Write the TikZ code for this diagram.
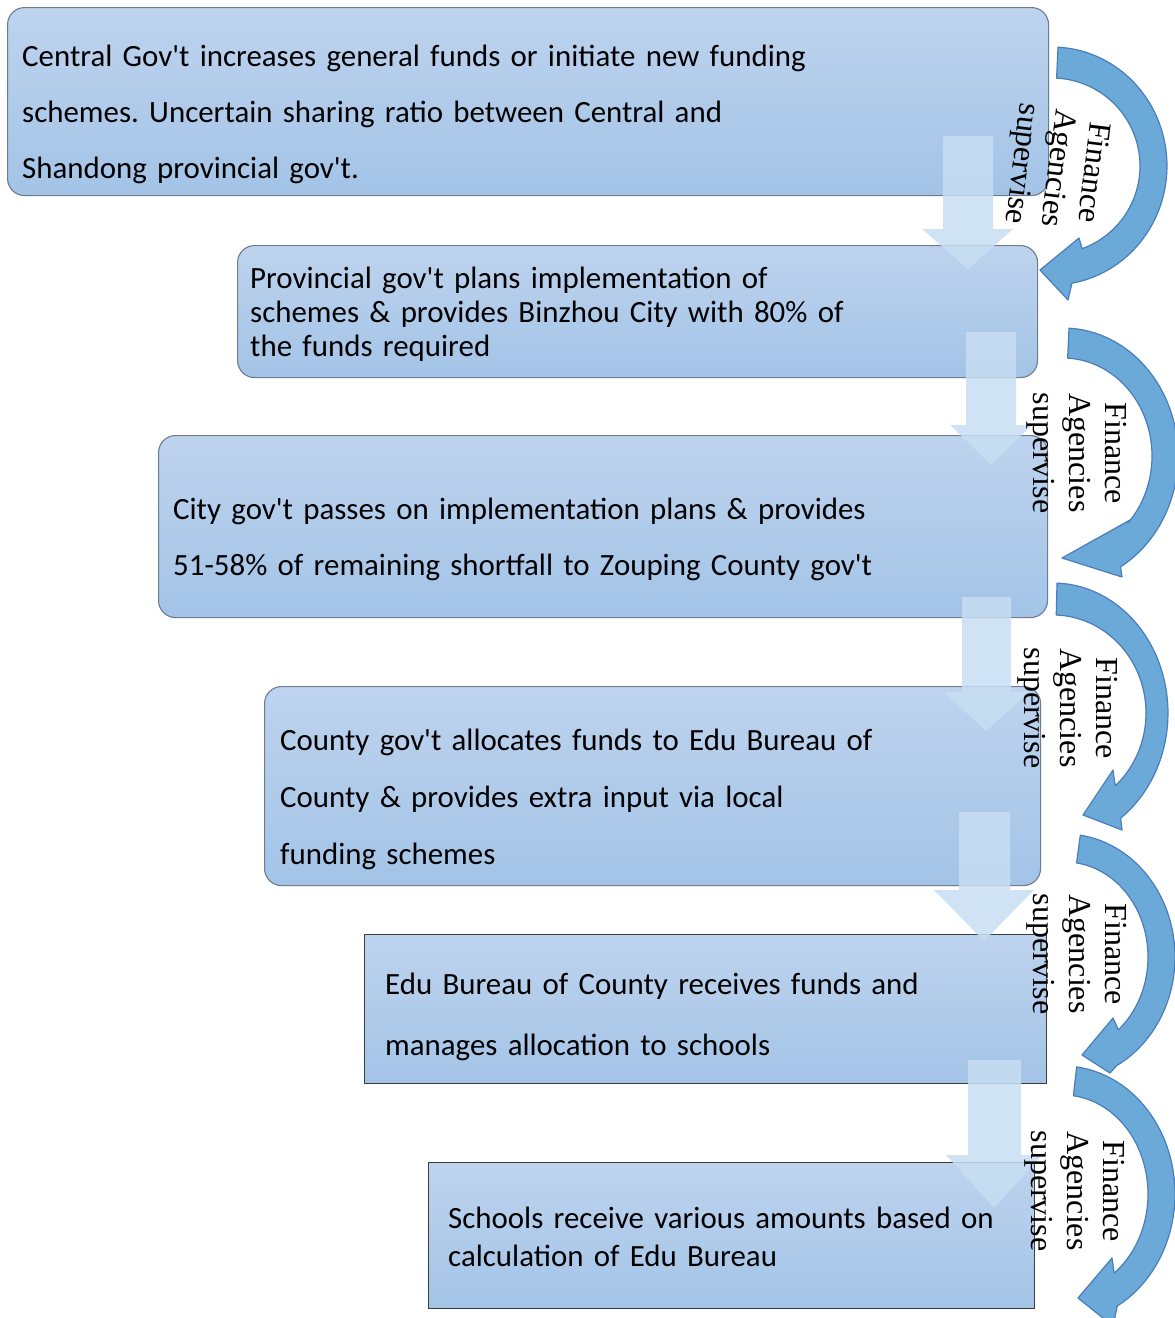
\documentclass[tikz,border=0pt]{standalone}
\usepackage{fontspec}
\newfontfamily\boxfont{Carlito}
\newfontfamily\labelserif{Liberation Serif}
\definecolor{boxtop}{RGB}{190,211,238}
\definecolor{boxbot}{RGB}{163,196,231}
\definecolor{boxline}{RGB}{110,124,142}
\definecolor{boxdark}{RGB}{60,60,60}
\definecolor{flowfill}{RGB}{200,222,242}
\definecolor{loopfill}{RGB}{106,169,216}
\definecolor{loopline}{RGB}{74,126,187}
\frenchspacing
\begin{document}
\begin{tikzpicture}[x=1pt,y=-1pt,
  stage/.style={draw=boxline, line width=1.1pt, top color=boxtop, bottom color=boxbot,
    rounded corners=17pt, anchor=north west, inner sep=0pt},
  stagesq/.style={draw=boxdark, line width=1.4pt, top color=boxtop, bottom color=boxbot,
    anchor=north west, inner sep=0pt},
  stagetext/.style={anchor=base west, inner sep=0pt, align=left, text width=900pt,
    font=\boxfont\fontsize{30.9}{#1}\selectfont},
  flow/.style={fill=flowfill, fill opacity=0.85, draw=none},
  loop/.style={fill=loopfill, draw=loopline, line width=1.2pt, line join=round},
  looptext/.style={font=\labelserif\fontsize{32}{36}\selectfont, align=center,
    inner sep=0pt}
]
\path[use as bounding box, clip] (0,0) rectangle (1175,1318);

% the six stages of the funding chain
\node[stage, minimum width=1041pt, minimum height=188pt] (b1) at (7,7) {};
\node[stage, minimum width=800pt, minimum height=132pt] (b2) at (237,245) {};
\node[stage, minimum width=889pt, minimum height=182pt] (b3) at (158,435) {};
\node[stage, minimum width=776pt, minimum height=199pt] (b4) at (264,686) {};
\node[stagesq, minimum width=682pt, minimum height=149pt] (b5) at (364,934) {};
\node[stagesq, minimum width=606pt, minimum height=146pt] (b6) at (428,1162) {};

% downward flow arrows between the stages
\path[flow] (943,136) -- (993,136) -- (993,229) -- (1013,229) -- (968,269)
  -- (922,229) -- (943,229) -- cycle;
\path[flow] (966,332) -- (1016,332) -- (1016,425) -- (1032,425) -- (991,465)
  -- (950,425) -- (966,425) -- cycle;
\path[flow] (962,597) -- (1011,597) -- (1011,692) -- (1029,692) -- (986,731)
  -- (944,692) -- (962,692) -- cycle;
\path[flow] (959,812) -- (1010,812) -- (1010,890) -- (1034,890) -- (984,941)
  -- (934,890) -- (959,890) -- cycle;
\path[flow] (968,1060) -- (1021,1060) -- (1021,1155) -- (1042,1155) -- (994,1208)
  -- (946,1155) -- (968,1155) -- cycle;

% circular supervision arrows on the right
\path[loop] plot[domain=87:-80, samples=60] ({1052+115*cos(\x)},{166-119*sin(\x)})
  -- (1068,300) -- (1040,270) -- (1079,238)
  -- plot[domain=-70:87, samples=60] ({1052+88*cos(\x)},{166-88*sin(\x)}) -- cycle;
\path[loop] plot[domain=87:-60, samples=60] ({1063+115*cos(\x)},{456-128*sin(\x)})
  -- (1122,577) -- (1062,558) -- (1130,520)
  -- plot[domain=-43:87, samples=60] ({1063+89*cos(\x)},{456-98*sin(\x)}) -- cycle;
\path[loop] plot[domain=88:-54, samples=60] ({1053+115*cos(\x)},{713-130*sin(\x)})
  -- (1122,830) -- (1083,815) -- (1113,770)
  -- plot[domain=-48:88, samples=60] ({1053+93*cos(\x)},{713-98*sin(\x)}) -- cycle;
\path[loop] plot[domain=82:-62, samples=60] ({1065+110*cos(\x)},{957-123*sin(\x)})
  -- (1110,1073) -- (1082,1055) -- (1113,1018)
  -- plot[domain=-50:82, samples=60] ({1065+83*cos(\x)},{957-95*sin(\x)}) -- cycle;
\path[loop] plot[domain=83:-61, samples=60] ({1063+112*cos(\x)},{1194-128*sin(\x)})
  -- (1113,1326) -- (1078,1298) -- (1112,1258)
  -- plot[domain=-53:83, samples=60] ({1063+85*cos(\x)},{1194-99*sin(\x)}) -- cycle;

% stage texts
\node[stagetext=56] (t1) at (22,66) {Central Gov't increases general funds or initiate new funding\\
  schemes. Uncertain sharing ratio between Central and\\Shandong provincial gov't.};
\node[stagetext=34] (t2) at (250,288) {Provincial gov't plans implementation of\\
  schemes \& provides Binzhou City with 80\% of\\the funds required};
\node[stagetext=56] (t3) at (173,519) {City gov't passes on implementation plans \& provides\\
  51-58\% of remaining shortfall to Zouping County gov't};
\node[stagetext=57] (t4) at (280,750) {County gov't allocates funds to Edu Bureau of\\
  County \& provides extra input via local\\funding schemes};
\node[stagetext=61] (t5) at (385,994) {Edu Bureau of County receives funds and\\
  manages allocation to schools};
\node[stagetext=38] (t6) at (448,1228) {Schools receive various amounts based on\\
  calculation of Edu Bureau};

% supervision labels
\node[looptext, rotate=-97] (s1) at (1056,168) {Finance\\Agencies\\supervise};
\node[looptext, rotate=-90] (s2) at (1077,453) {Finance\\Agencies\\supervise};
\node[looptext, rotate=-90] (s3) at (1068,708) {Finance\\Agencies\\supervise};
\node[looptext, rotate=-90] (s4) at (1077,954) {Finance\\Agencies\\supervise};
\node[looptext, rotate=-90] (s5) at (1075,1191) {Finance\\Agencies\\supervise};
\end{tikzpicture}
\end{document}
